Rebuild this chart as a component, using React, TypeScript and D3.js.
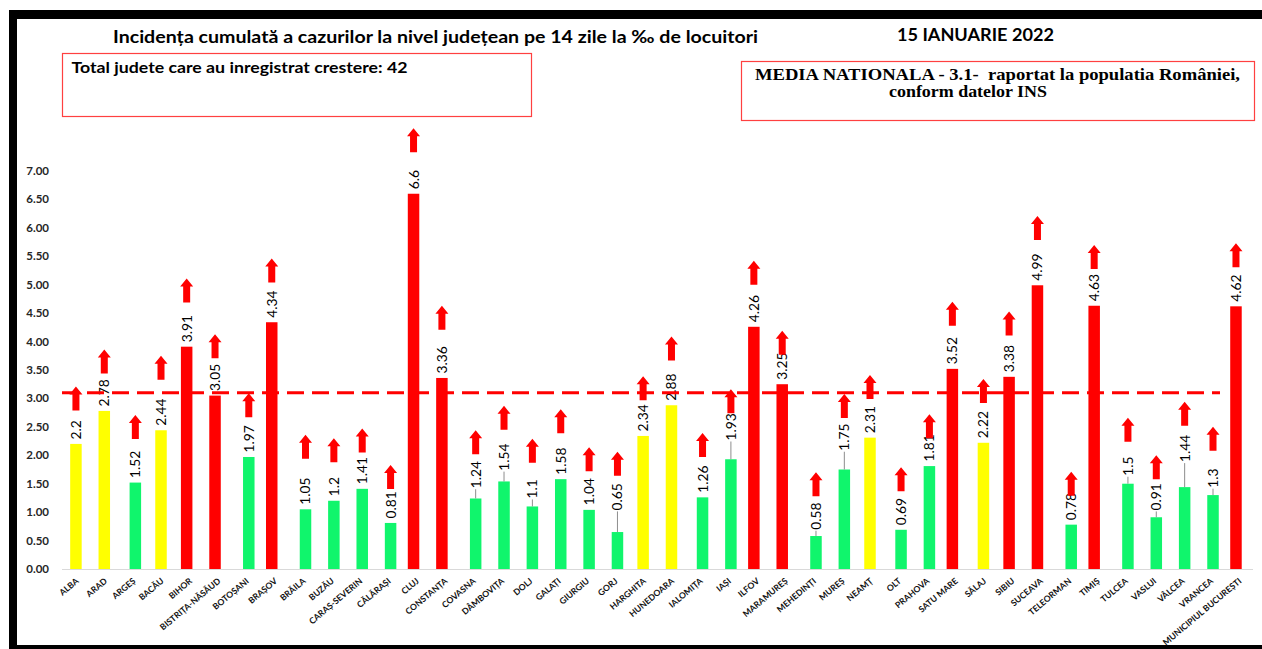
import React, { useEffect, useRef } from 'react';
import * as d3 from 'd3';

const judete = [
  'ALBA', 'ARAD', 'ARGEȘ', 'BACĂU', 'BIHOR', 'BISTRIȚA-NĂSĂUD', 'BOTOȘANI', 'BRAȘOV',
  'BRĂILA', 'BUZĂU', 'CARAȘ-SEVERIN', 'CĂLĂRAȘI', 'CLUJ', 'CONSTANȚA', 'COVASNA',
  'DÂMBOVIȚA', 'DOLJ', 'GALAȚI', 'GIURGIU', 'GORJ', 'HARGHITA', 'HUNEDOARA', 'IALOMIȚA',
  'IAȘI', 'ILFOV', 'MARAMUREȘ', 'MEHEDINȚI', 'MUREȘ', 'NEAMȚ', 'OLT', 'PRAHOVA',
  'SATU MARE', 'SĂLAJ', 'SIBIU', 'SUCEAVA', 'TELEORMAN', 'TIMIȘ', 'TULCEA', 'VASLUI',
  'VÂLCEA', 'VRANCEA', 'MUNICIPIUL BUCUREȘTI',
];

const incidenta = [
  2.2, 2.78, 1.52, 2.44, 3.91, 3.05, 1.97, 4.34,
  1.05, 1.2, 1.41, 0.81, 6.6, 3.36, 1.24,
  1.54, 1.1, 1.58, 1.04, 0.65, 2.34, 2.88, 1.26,
  1.93, 4.26, 3.25, 0.58, 1.75, 2.31, 0.69, 1.81,
  3.52, 2.22, 3.38, 4.99, 0.78, 4.63, 1.5, 0.91,
  1.44, 1.3, 4.62,
];

// varful sagetii de crestere, in unitatile axei
const sageti = [
  3.21, 3.86, 2.71, 3.75, 5.11, 4.13, 3.09, 5.46,
  2.36, 2.3, 2.47, 1.83, 7.75, 4.63, 2.44,
  2.87, 2.29, 2.81, 2.14, 2.06, 3.39, 4.09, 2.39,
  3.16, 5.42, 4.19, 1.7, 3.08, 3.41, 1.79, 2.72,
  4.7, 3.34, 4.53, 6.21, 1.71, 5.7, 2.66, 2.0,
  2.94, 2.5, 5.73,
];

// etichete mutate mai sus (cu linie de legatura), in unitatile axei
const eticheteMutate: Record<string, number> = {
  COVASNA: 1.42, 'DÂMBOVIȚA': 1.73, DOLJ: 1.24, GORJ: 1.03, 'IAȘI': 2.26,
  'MUREȘ': 2.08, 'MEHEDINȚI': 0.69, TULCEA: 1.64, VASLUI: 1.03, 'VÂLCEA': 1.88, VRANCEA: 1.43,
};

const yTicks = [0, 0.5, 1, 1.5, 2, 2.5, 3, 3.5, 4, 4.5, 5, 5.5, 6, 6.5, 7];
const mediaNationala = 3.1;
const serii = ['rosu', 'galben', 'verde'];

const App: React.FC = () => {
  const svgRef = useRef<SVGSVGElement>(null);

  useEffect(() => {
    if (!svgRef.current) return;
    const svg = d3.select(svgRef.current);
    svg.selectAll('*').remove();

    const font = 'Lato, Carlito, "Open Sans", sans-serif';

    // chenar negru
    svg.append('rect').attr('x', 9).attr('y', 10).attr('width', 1253).attr('height', 9).attr('fill', '#000');
    svg.append('rect').attr('x', 9).attr('y', 10).attr('width', 8).attr('height', 639).attr('fill', '#000');
    svg.append('rect').attr('x', 9).attr('y', 645).attr('width', 1253).attr('height', 4).attr('fill', '#000');

    // titluri
    svg.append('text')
      .attr('x', 113).attr('y', 43)
      .attr('textLength', 645).attr('lengthAdjust', 'spacingAndGlyphs')
      .style('font-family', font).style('font-weight', 700).style('font-size', '16.5px')
      .text('Incidența cumulată a cazurilor la nivel județean pe 14 zile la ‰ de locuitori');
    svg.append('text')
      .attr('x', 897).attr('y', 41)
      .attr('textLength', 157).attr('lengthAdjust', 'spacingAndGlyphs')
      .style('font-family', font).style('font-weight', 700).style('font-size', '16.5px')
      .text('15 IANUARIE 2022');

    svg.append('rect').attr('x', 62.5).attr('y', 53.5).attr('width', 469).attr('height', 63)
      .attr('fill', 'none').attr('stroke', '#ff4040').attr('stroke-width', 1.2);
    svg.append('text')
      .attr('x', 71.5).attr('y', 73)
      .attr('textLength', 336).attr('lengthAdjust', 'spacingAndGlyphs')
      .style('font-family', font).style('font-weight', 700).style('font-size', '14.5px')
      .text('Total judete care au inregistrat crestere: 42');

    svg.append('rect').attr('x', 741.5).attr('y', 61.5).attr('width', 513).attr('height', 59)
      .attr('fill', 'none').attr('stroke', '#ff4040').attr('stroke-width', 1.2);
    const serif = '"Liberation Serif", "Times New Roman", serif';
    svg.append('text')
      .attr('x', 755).attr('y', 80)
      .attr('textLength', 485).attr('lengthAdjust', 'spacingAndGlyphs')
      .style('font-family', serif).style('font-weight', 700).style('font-size', '17px')
      .style('white-space', 'pre')
      .text('MEDIA NATIONALA - 3.1-  raportat la populatia României,');
    svg.append('text')
      .attr('x', 889).attr('y', 96.5)
      .attr('textLength', 158).attr('lengthAdjust', 'spacingAndGlyphs')
      .style('font-family', serif).style('font-weight', 700).style('font-size', '17px')
      .text('conform datelor INS');

    // scale
    const x = d3.scaleBand<string>().domain(judete).range([61.7, 1252.8]).padding(0);
    const y = d3.scaleLinear().domain([0, 7]).range([569, 171]);
    const culoare = d3.scaleThreshold<number, string>()
      .domain([2, 3]).range(['#10f56c', '#ffff00', '#ff0000']);
    const serie = d3.scaleThreshold<number, string>().domain([2, 3]).range(['verde', 'galben', 'rosu']);
    const deplasare = d3.scalePoint<string>().domain(serii).range([-2.65, 2.75]);
    const barW = 11.5;

    const date = judete.map((j, i) => ({ j, v: incidenta[i], s: sageti[i] }));
    const cx = (d: { j: string; v: number }) =>
      (x(d.j) || 0) + x.bandwidth() / 2 + (deplasare(serie(d.v)) || 0);
    const centru = (d: { j: string }) => (x(d.j) || 0) + x.bandwidth() / 2;

    // axa Y (doar etichete)
    svg.append('g').selectAll('text')
      .data(yTicks).enter().append('text')
      .attr('x', 49).attr('y', d => y(d)).attr('dy', '0.35em')
      .attr('text-anchor', 'end')
      .style('font-family', font).style('font-weight', 700).style('font-size', '11.5px')
      .style('fill', '#262626')
      .text(d => d.toFixed(2));

    // linia de baza
    svg.append('line')
      .attr('x1', 62).attr('x2', 1253).attr('y1', y(0) + 0.5).attr('y2', y(0) + 0.5)
      .attr('stroke', '#d9d9d9').attr('stroke-width', 1);

    // bare
    svg.append('g').selectAll('rect')
      .data(date).enter().append('rect')
      .attr('x', d => cx(d) - barW / 2)
      .attr('y', d => y(d.v))
      .attr('width', barW)
      .attr('height', d => y(0) - y(d.v))
      .attr('fill', d => culoare(d.v));

    // etichete categorii
    svg.append('g').selectAll('text')
      .data(date).enter().append('text')
      .attr('transform', d => `translate(${centru(d) + 3.5},582) rotate(-40)`)
      .attr('text-anchor', 'end')
      .style('font-family', font).style('font-weight', 700).style('font-size', '8.6px')
      .style('fill', '#111')
      .text(d => d.j);

    // etichete valori
    const bazaEticheta = (d: { j: string; v: number }) =>
      eticheteMutate[d.j] !== undefined ? y(eticheteMutate[d.j]) : y(d.v) - 4.5;

    svg.append('g').selectAll('line')
      .data(date.filter(d => eticheteMutate[d.j] !== undefined)).enter().append('line')
      .attr('x1', d => cx(d)).attr('x2', d => cx(d))
      .attr('y1', d => y(d.v)).attr('y2', d => bazaEticheta(d) + 1)
      .attr('stroke', '#808080').attr('stroke-width', 0.9);

    svg.append('g').selectAll('text')
      .data(date).enter().append('text')
      .attr('transform', d => `translate(${cx(d)},${bazaEticheta(d)}) rotate(-90)`)
      .attr('dy', '0.36em')
      .style('font-family', font).style('font-size', '13.8px')
      .style('fill', '#000')
      .text(d => String(d.v));

    // media nationala
    svg.append('line')
      .attr('x1', 62).attr('x2', 1220)
      .attr('y1', y(mediaNationala)).attr('y2', y(mediaNationala))
      .attr('stroke', '#ff0000').attr('stroke-width', 3)
      .attr('stroke-dasharray', '17 8');

    // sageti
    const sageata = (xc: number, yt: number) => {
      const p = d3.path();
      p.moveTo(xc, yt);
      p.lineTo(xc + 6.5, yt + 8);
      p.lineTo(xc + 3.5, yt + 8);
      p.lineTo(xc + 3.5, yt + 24);
      p.lineTo(xc - 3.5, yt + 24);
      p.lineTo(xc - 3.5, yt + 8);
      p.lineTo(xc - 6.5, yt + 8);
      p.closePath();
      return p.toString();
    };
    svg.append('g').selectAll('path')
      .data(date).enter().append('path')
      .attr('d', d => sageata(cx(d), y(d.s)))
      .attr('fill', '#ff0000');
  }, []);

  return (
    <svg
      ref={svgRef}
      width={1262}
      height={649}
      style={{ position: 'absolute', left: 0, top: 0, display: 'block', background: '#fff' }}
    />
  );
};

export default App;
